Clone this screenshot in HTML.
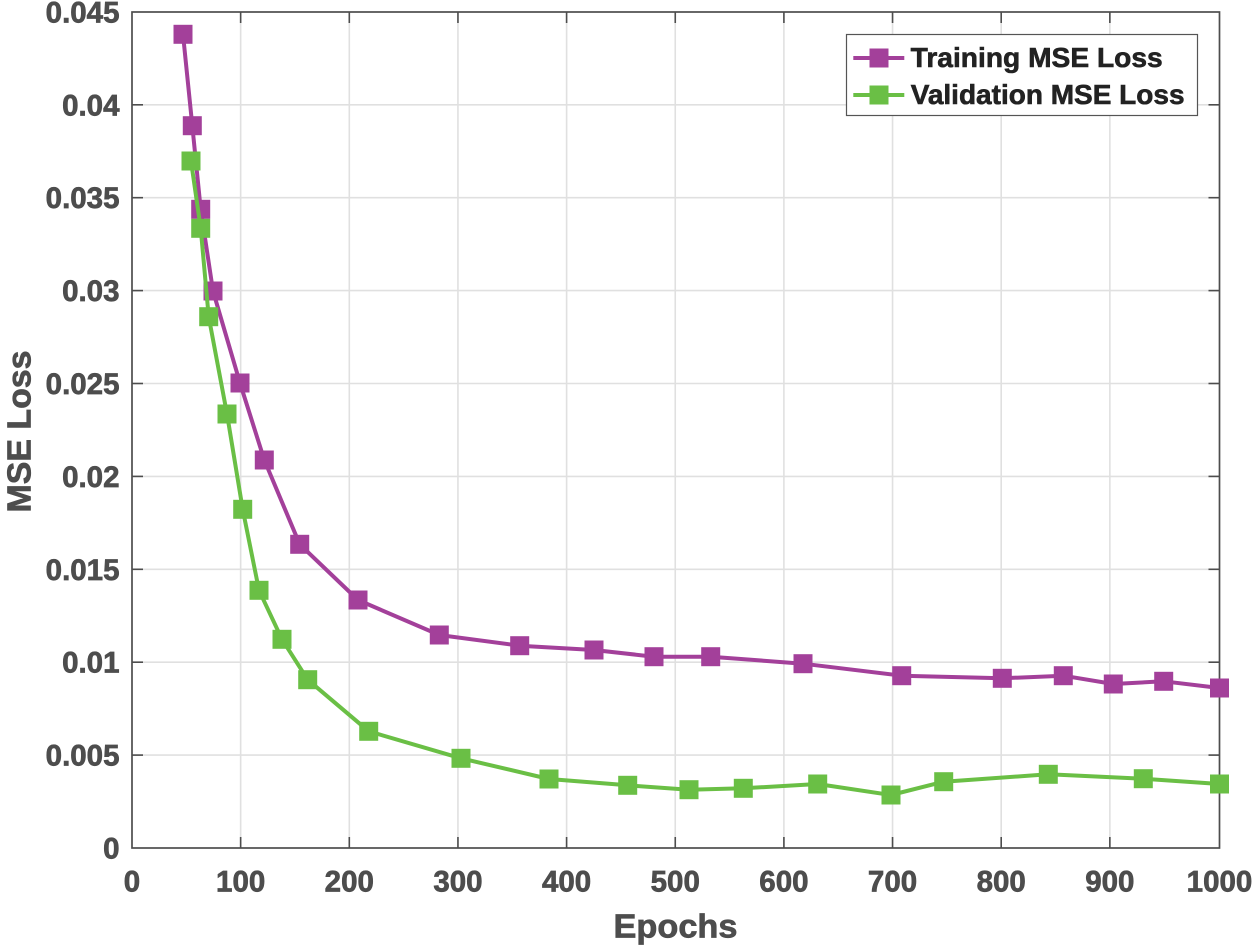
<!DOCTYPE html>
<html>
<head>
<meta charset="utf-8">
<style>
html,body{margin:0;padding:0;background:#fff;}
svg{display:block;}
text{font-family:"Liberation Sans",Arial,sans-serif;font-weight:bold;}
</style>
</head>
<body>
<svg width="1255" height="948" viewBox="0 0 1255 948" xmlns="http://www.w3.org/2000/svg">
<rect x="0" y="0" width="1255" height="948" fill="#fff"/>
<!-- grid -->
<g stroke="#e0e0e0" stroke-width="1.6">
<line x1="240.65" y1="12" x2="240.65" y2="848"/>
<line x1="349.3" y1="12" x2="349.3" y2="848"/>
<line x1="457.95" y1="12" x2="457.95" y2="848"/>
<line x1="566.6" y1="12" x2="566.6" y2="848"/>
<line x1="675.25" y1="12" x2="675.25" y2="848"/>
<line x1="783.9" y1="12" x2="783.9" y2="848"/>
<line x1="892.55" y1="12" x2="892.55" y2="848"/>
<line x1="1001.2" y1="12" x2="1001.2" y2="848"/>
<line x1="1109.85" y1="12" x2="1109.85" y2="848"/>
<line x1="132" y1="755.1" x2="1219.5" y2="755.1"/>
<line x1="132" y1="662.2" x2="1219.5" y2="662.2"/>
<line x1="132" y1="569.3" x2="1219.5" y2="569.3"/>
<line x1="132" y1="476.4" x2="1219.5" y2="476.4"/>
<line x1="132" y1="383.5" x2="1219.5" y2="383.5"/>
<line x1="132" y1="290.6" x2="1219.5" y2="290.6"/>
<line x1="132" y1="197.7" x2="1219.5" y2="197.7"/>
<line x1="132" y1="104.8" x2="1219.5" y2="104.8"/>
</g>
<!-- ticks -->
<g stroke="#4d4d4d" stroke-width="1.6">
<line x1="240.65" y1="848" x2="240.65" y2="837"/><line x1="240.65" y1="12" x2="240.65" y2="23"/>
<line x1="349.3" y1="848" x2="349.3" y2="837"/><line x1="349.3" y1="12" x2="349.3" y2="23"/>
<line x1="457.95" y1="848" x2="457.95" y2="837"/><line x1="457.95" y1="12" x2="457.95" y2="23"/>
<line x1="566.6" y1="848" x2="566.6" y2="837"/><line x1="566.6" y1="12" x2="566.6" y2="23"/>
<line x1="675.25" y1="848" x2="675.25" y2="837"/><line x1="675.25" y1="12" x2="675.25" y2="23"/>
<line x1="783.9" y1="848" x2="783.9" y2="837"/><line x1="783.9" y1="12" x2="783.9" y2="23"/>
<line x1="892.55" y1="848" x2="892.55" y2="837"/><line x1="892.55" y1="12" x2="892.55" y2="23"/>
<line x1="1001.2" y1="848" x2="1001.2" y2="837"/><line x1="1001.2" y1="12" x2="1001.2" y2="23"/>
<line x1="1109.85" y1="848" x2="1109.85" y2="837"/><line x1="1109.85" y1="12" x2="1109.85" y2="23"/>
<line x1="132" y1="755.1" x2="143" y2="755.1"/><line x1="1219.5" y1="755.1" x2="1208.5" y2="755.1"/>
<line x1="132" y1="662.2" x2="143" y2="662.2"/><line x1="1219.5" y1="662.2" x2="1208.5" y2="662.2"/>
<line x1="132" y1="569.3" x2="143" y2="569.3"/><line x1="1219.5" y1="569.3" x2="1208.5" y2="569.3"/>
<line x1="132" y1="476.4" x2="143" y2="476.4"/><line x1="1219.5" y1="476.4" x2="1208.5" y2="476.4"/>
<line x1="132" y1="383.5" x2="143" y2="383.5"/><line x1="1219.5" y1="383.5" x2="1208.5" y2="383.5"/>
<line x1="132" y1="290.6" x2="143" y2="290.6"/><line x1="1219.5" y1="290.6" x2="1208.5" y2="290.6"/>
<line x1="132" y1="197.7" x2="143" y2="197.7"/><line x1="1219.5" y1="197.7" x2="1208.5" y2="197.7"/>
<line x1="132" y1="104.8" x2="143" y2="104.8"/><line x1="1219.5" y1="104.8" x2="1208.5" y2="104.8"/>
</g>
<!-- axes box -->
<rect x="132" y="12" width="1087.5" height="836" fill="none" stroke="#4d4d4d" stroke-width="1.7"/>

<!-- training -->
<polyline fill="none" stroke="#a3409a" stroke-width="4" stroke-linejoin="round" points="183,34.3 192.3,125.7 200.7,209.3 213,291 240,383 264.3,460 299.7,544.3 358,600 439.3,635 519.7,645.7 594,650 654,656.7 710.7,656.7 803,663.7 901.7,675.7 1002.3,678.3 1063.3,675.7 1113.3,684 1163.7,681.3 1219.5,688"/>
<g fill="#a3409a">
<rect x="173.5" y="24.8" width="19" height="19"/>
<rect x="182.8" y="116.2" width="19" height="19"/>
<rect x="191.2" y="199.8" width="19" height="19"/>
<rect x="203.5" y="281.5" width="19" height="19"/>
<rect x="230.5" y="373.5" width="19" height="19"/>
<rect x="254.8" y="450.5" width="19" height="19"/>
<rect x="290.2" y="534.8" width="19" height="19"/>
<rect x="348.5" y="590.5" width="19" height="19"/>
<rect x="429.8" y="625.5" width="19" height="19"/>
<rect x="510.2" y="636.2" width="19" height="19"/>
<rect x="584.5" y="640.5" width="19" height="19"/>
<rect x="644.5" y="647.2" width="19" height="19"/>
<rect x="701.2" y="647.2" width="19" height="19"/>
<rect x="793.5" y="654.2" width="19" height="19"/>
<rect x="892.2" y="666.2" width="19" height="19"/>
<rect x="992.8" y="668.8" width="19" height="19"/>
<rect x="1053.8" y="666.2" width="19" height="19"/>
<rect x="1103.8" y="674.5" width="19" height="19"/>
<rect x="1154.2" y="671.8" width="19" height="19"/>
<rect x="1210" y="678.5" width="19" height="19"/>
</g>

<!-- validation -->
<polyline fill="none" stroke="#6abf45" stroke-width="4" stroke-linejoin="round" points="191,161 200.7,228.3 208.7,316.7 227,414 242.7,509.3 259,590.3 282,639.3 307.7,679.7 368.7,731.3 461,758.3 549,779 627.7,785.3 689,789.7 743.3,788.3 817.7,784 891,795 943.7,781.7 1048.3,774.3 1143.3,778.7 1219.5,784"/>
<g fill="#6abf45">
<rect x="181.5" y="151.5" width="19" height="19"/>
<rect x="191.2" y="218.8" width="19" height="19"/>
<rect x="199.2" y="307.2" width="19" height="19"/>
<rect x="217.5" y="404.5" width="19" height="19"/>
<rect x="233.2" y="499.8" width="19" height="19"/>
<rect x="249.5" y="580.8" width="19" height="19"/>
<rect x="272.5" y="629.8" width="19" height="19"/>
<rect x="298.2" y="670.2" width="19" height="19"/>
<rect x="359.2" y="721.8" width="19" height="19"/>
<rect x="451.5" y="748.8" width="19" height="19"/>
<rect x="539.5" y="769.5" width="19" height="19"/>
<rect x="618.2" y="775.8" width="19" height="19"/>
<rect x="679.5" y="780.2" width="19" height="19"/>
<rect x="733.8" y="778.8" width="19" height="19"/>
<rect x="808.2" y="774.5" width="19" height="19"/>
<rect x="881.5" y="785.5" width="19" height="19"/>
<rect x="934.2" y="772.2" width="19" height="19"/>
<rect x="1038.8" y="764.8" width="19" height="19"/>
<rect x="1133.8" y="769.2" width="19" height="19"/>
<rect x="1210" y="774.5" width="19" height="19"/>
</g>

<!-- x tick labels -->
<g fill="#4d4d4d" stroke="#4d4d4d" stroke-width="0.7" font-size="29.5" text-anchor="middle">
<text x="132" y="891.5">0</text>
<text x="240.65" y="891.5">100</text>
<text x="349.3" y="891.5">200</text>
<text x="457.95" y="891.5">300</text>
<text x="566.6" y="891.5">400</text>
<text x="675.25" y="891.5">500</text>
<text x="783.9" y="891.5">600</text>
<text x="892.55" y="891.5">700</text>
<text x="1001.2" y="891.5">800</text>
<text x="1109.85" y="891.5">900</text>
<text x="1219.5" y="891.5">1000</text>
</g>
<!-- y tick labels -->
<g fill="#4d4d4d" stroke="#4d4d4d" stroke-width="0.7" font-size="29.5" text-anchor="end">
<text x="119.5" y="858.5">0</text>
<text x="119.5" y="765.6">0.005</text>
<text x="119.5" y="672.7">0.01</text>
<text x="119.5" y="579.8">0.015</text>
<text x="119.5" y="486.9">0.02</text>
<text x="119.5" y="394">0.025</text>
<text x="119.5" y="301.1">0.03</text>
<text x="119.5" y="208.2">0.035</text>
<text x="119.5" y="115.3">0.04</text>
<text x="119.5" y="22.4">0.045</text>
</g>
<!-- axis labels -->
<text x="675.5" y="937.5" fill="#4d4d4d" stroke="#4d4d4d" stroke-width="0.7" font-size="33" text-anchor="middle" textLength="124" lengthAdjust="spacingAndGlyphs">Epochs</text>
<text x="30.5" y="431.5" fill="#4d4d4d" stroke="#4d4d4d" stroke-width="0.7" font-size="33" text-anchor="middle" textLength="162" lengthAdjust="spacingAndGlyphs" transform="rotate(-90 30.5 431.5)">MSE Loss</text>

<!-- legend -->
<rect x="846.5" y="34.5" width="351" height="81" fill="#fff" stroke="#555" stroke-width="1.2"/>
<line x1="853.3" y1="58" x2="904.3" y2="58" stroke="#a3409a" stroke-width="4"/>
<rect x="869.5" y="48.5" width="19" height="19" fill="#a3409a"/>
<line x1="853.3" y1="95" x2="904.3" y2="95" stroke="#6abf45" stroke-width="4"/>
<rect x="869.5" y="85.5" width="19" height="19" fill="#6abf45"/>
<text x="910.7" y="67" fill="#222" stroke="#222" stroke-width="0.6" font-size="28" textLength="252" lengthAdjust="spacingAndGlyphs">Training MSE Loss</text>
<text x="910.7" y="104" fill="#222" stroke="#222" stroke-width="0.6" font-size="28">Validation MSE Loss</text>
</svg>
</body>
</html>
